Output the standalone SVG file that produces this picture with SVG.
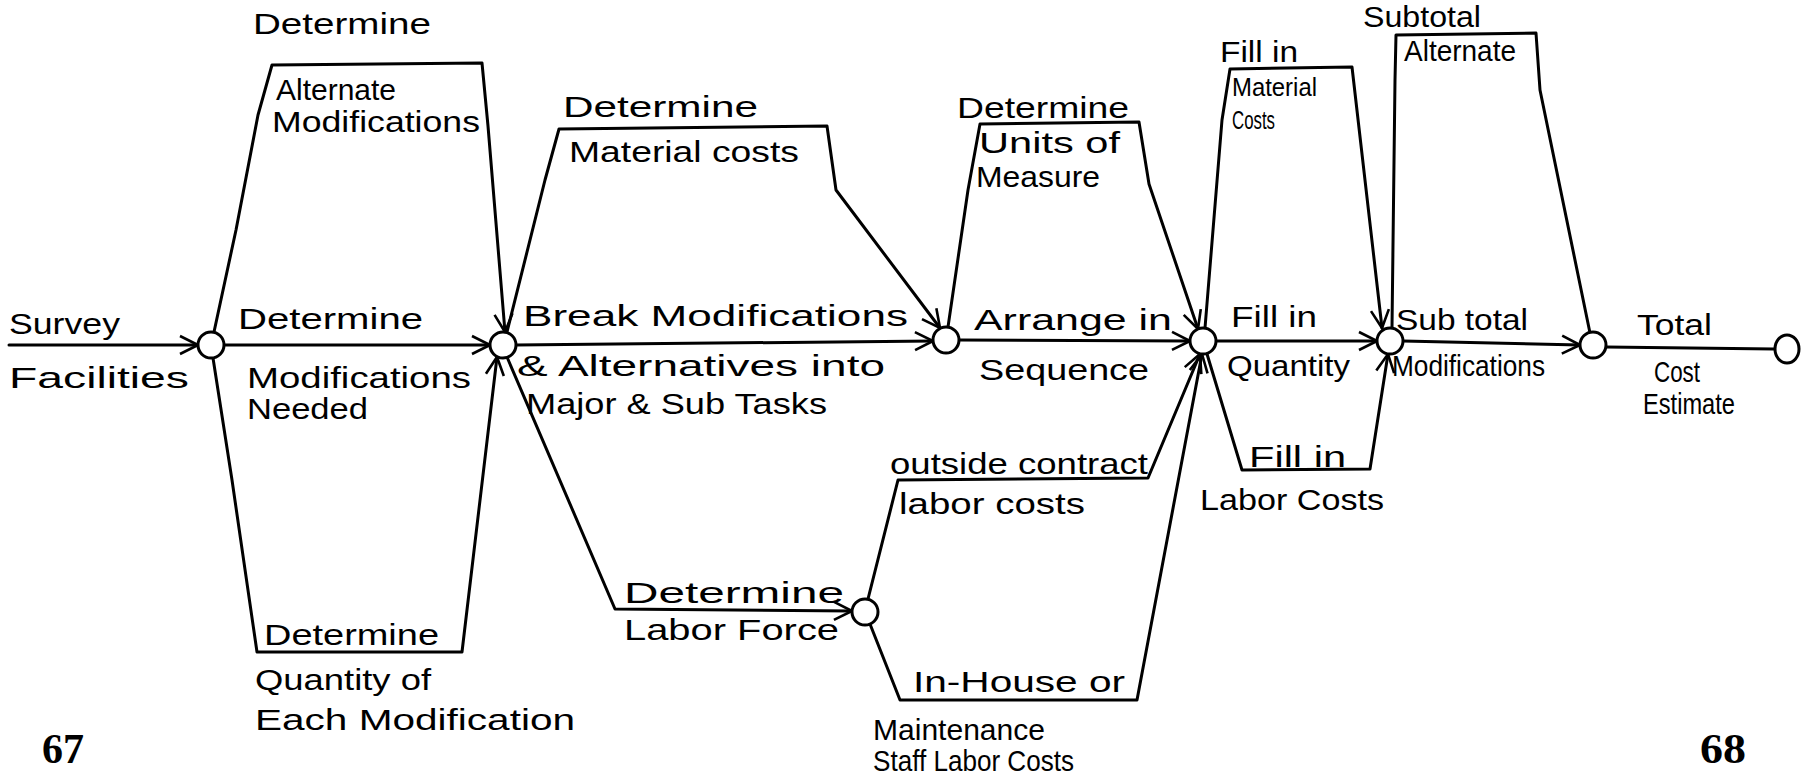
<svg xmlns="http://www.w3.org/2000/svg" width="1801" height="775" viewBox="0 0 1801 775">
<defs>
<marker id="arr" viewBox="0 0 22 22" markerWidth="22" markerHeight="22" refX="20" refY="11" orient="auto" markerUnits="userSpaceOnUse">
<path d="M2,2 L20,11 L2,20" fill="none" stroke="#000" stroke-width="2.6"/>
</marker>
</defs>
<style>
.e{fill:none;stroke:#000;stroke-width:3;stroke-linejoin:round;stroke-linecap:round}
.a{marker-end:url(#arr)}
.n{fill:#fff;stroke:#000;stroke-width:3}
text{font-family:"Liberation Sans",Arial,sans-serif;font-size:29px;fill:#000}
.sm{font-size:26px}
.pg{font-family:"Liberation Serif","Times New Roman",serif;font-weight:bold;font-size:43px}
</style>
<rect width="1801" height="775" fill="#fff"/>
<g id="connectors">
<path class="e a" d="M9,345 L198,345"/>
<path class="e a" d="M224,345 L490,345"/>
<path class="e a" d="M214,332 L236,230 L258,115 L272,65 L482,63 L488,126 L505,332"/>
<path class="e a" d="M213,358 L232,480 L257,652 L462,652 L497,357"/>
<path class="e a" d="M507,332 L545,180 L559,129 L827,126 L836,190 L940,328"/>
<path class="e a" d="M516,345 L933,341"/>
<path class="e a" d="M948,327 L968,190 L980,124 L1139,122 L1149,184 L1198,329"/>
<path class="e a" d="M959,340 L1190,341"/>
<path class="e a" d="M507,357 L615,609 L852,611"/>
<path class="e a" d="M868,599 L898,480 L1148,478 L1200,354"/>
<path class="e a" d="M870,624 L900,700 L1137,700 L1202,354"/>
<path class="e a" d="M1205,328 L1222,120 L1230,69 L1352,67 L1382,328"/>
<path class="e a" d="M1216,341 L1377,341"/>
<path class="e a" d="M1207,354 L1242,470 L1370,469 L1388,354"/>
<path class="e" d="M1392,328 L1395,80 L1396,35 L1536,33 L1540,90 L1590,333"/>
<path class="e a" d="M1403,341 L1580,345"/>
<path class="e" d="M1606,347 L1774,349"/>
</g>
<g id="node1"><circle class="n" cx="211" cy="345" r="13"/></g>
<g id="node2"><circle class="n" cx="503" cy="345" r="13"/></g>
<g id="node3"><circle class="n" cx="946" cy="340" r="13"/></g>
<g id="node4"><circle class="n" cx="1203" cy="341" r="13"/></g>
<g id="node5"><circle class="n" cx="865" cy="612" r="13"/></g>
<g id="node6"><circle class="n" cx="1390" cy="341" r="13"/></g>
<g id="node7"><circle class="n" cx="1593" cy="345" r="13"/></g>
<g id="node8"><ellipse class="n" cx="1787" cy="349" rx="12" ry="14"/></g>
<g id="labels">
<text x="253" y="34" textLength="178" lengthAdjust="spacingAndGlyphs">Determine</text>
<text x="276" y="100" textLength="120" lengthAdjust="spacingAndGlyphs">Alternate</text>
<text x="272" y="132" textLength="208" lengthAdjust="spacingAndGlyphs">Modifications</text>
<text x="9" y="334" textLength="111" lengthAdjust="spacingAndGlyphs">Survey</text>
<text x="9" y="388" textLength="180" lengthAdjust="spacingAndGlyphs">Facilities</text>
<text x="238" y="329" textLength="185" lengthAdjust="spacingAndGlyphs">Determine</text>
<text x="247" y="388" textLength="224" lengthAdjust="spacingAndGlyphs">Modifications</text>
<text x="247" y="419" textLength="121" lengthAdjust="spacingAndGlyphs">Needed</text>
<text x="264" y="645" textLength="175" lengthAdjust="spacingAndGlyphs">Determine</text>
<text x="255" y="690" textLength="176" lengthAdjust="spacingAndGlyphs">Quantity of</text>
<text x="255" y="730" textLength="320" lengthAdjust="spacingAndGlyphs">Each Modification</text>
<text x="563" y="117" textLength="195" lengthAdjust="spacingAndGlyphs">Determine</text>
<text x="569" y="162" textLength="230" lengthAdjust="spacingAndGlyphs">Material costs</text>
<text x="523" y="326" textLength="385" lengthAdjust="spacingAndGlyphs">Break Modifications</text>
<text x="517" y="376" textLength="368" lengthAdjust="spacingAndGlyphs">&amp; Alternatives into</text>
<text x="526" y="414" textLength="301" lengthAdjust="spacingAndGlyphs">Major &amp; Sub Tasks</text>
<text x="957" y="118" textLength="172" lengthAdjust="spacingAndGlyphs">Determine</text>
<text x="979" y="153" textLength="141" lengthAdjust="spacingAndGlyphs">Units of</text>
<text x="976" y="187" textLength="124" lengthAdjust="spacingAndGlyphs">Measure</text>
<text x="974" y="330" textLength="198" lengthAdjust="spacingAndGlyphs">Arrange in</text>
<text x="979" y="380" textLength="170" lengthAdjust="spacingAndGlyphs">Sequence</text>
<text x="890" y="474" textLength="258" lengthAdjust="spacingAndGlyphs">outside contract</text>
<text x="899" y="514" textLength="186" lengthAdjust="spacingAndGlyphs">labor costs</text>
<text x="624" y="603" textLength="220" lengthAdjust="spacingAndGlyphs">Determine</text>
<text x="624" y="640" textLength="215" lengthAdjust="spacingAndGlyphs">Labor Force</text>
<text x="913" y="692" textLength="212" lengthAdjust="spacingAndGlyphs">In-House or</text>
<text x="873" y="740" textLength="172" lengthAdjust="spacingAndGlyphs">Maintenance</text>
<text x="873" y="771" textLength="201" lengthAdjust="spacingAndGlyphs">Staff Labor Costs</text>
<text x="1220" y="62" textLength="78" lengthAdjust="spacingAndGlyphs">Fill in</text>
<text class="sm" x="1232" y="96" textLength="85" lengthAdjust="spacingAndGlyphs">Material</text>
<text class="sm" x="1232" y="129" textLength="43" lengthAdjust="spacingAndGlyphs">Costs</text>
<text x="1231" y="327" textLength="86" lengthAdjust="spacingAndGlyphs">Fill in</text>
<text x="1227" y="376" textLength="123" lengthAdjust="spacingAndGlyphs">Quantity</text>
<text x="1249" y="467" textLength="97" lengthAdjust="spacingAndGlyphs">Fill in</text>
<text x="1200" y="510" textLength="184" lengthAdjust="spacingAndGlyphs">Labor Costs</text>
<text x="1363" y="27" textLength="118" lengthAdjust="spacingAndGlyphs">Subtotal</text>
<text x="1404" y="61" textLength="112" lengthAdjust="spacingAndGlyphs">Alternate</text>
<text x="1396" y="330" textLength="132" lengthAdjust="spacingAndGlyphs">Sub total</text>
<text x="1392" y="376" textLength="153" lengthAdjust="spacingAndGlyphs">Modifications</text>
<text x="1637" y="335" textLength="75" lengthAdjust="spacingAndGlyphs">Total</text>
<text x="1654" y="382" textLength="46" lengthAdjust="spacingAndGlyphs">Cost</text>
<text x="1643" y="414" textLength="92" lengthAdjust="spacingAndGlyphs">Estimate</text>
<text class="pg" x="42" y="763" textLength="42" lengthAdjust="spacingAndGlyphs">67</text>
<text class="pg" x="1700" y="763" textLength="46" lengthAdjust="spacingAndGlyphs">68</text>
</g>
</svg>
